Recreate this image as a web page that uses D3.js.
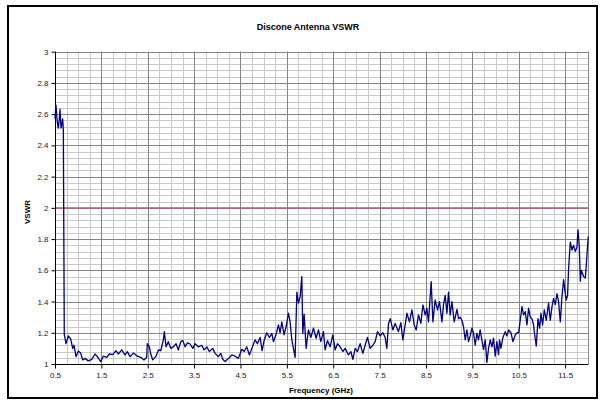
<!DOCTYPE html>
<html><head><meta charset="utf-8">
<script src="https://cdn.jsdelivr.net/npm/d3@7/dist/d3.min.js"></script>
<style>
html,body{margin:0;padding:0;background:#fff;}
svg{display:block;font-family:Arial,"Liberation Sans",sans-serif;}
</style></head>
<body>
<script>
const chartTitle = "Discone Antenna VSWR";
const xTitle = "Frequency (GHz)";
const yTitle = "VSWR";
const xTickLabels = [0.5,1.5,2.5,3.5,4.5,5.5,6.5,7.5,8.5,9.5,10.5,11.5];
const yTickLabels = [1,1.2,1.4,1.6,1.8,2,2.2,2.4,2.6,2.8,3];
const limitValue = 2;
const freqGHz = [0.50,0.52,0.545,0.57,0.59,0.608,0.63,0.645,0.665,0.68,0.70,0.737,0.787,0.839,0.882,0.91,0.953,1.003,1.054,1.098,1.147,1.218,1.292,1.363,1.413,1.486,1.542,1.615,1.672,1.745,1.816,1.866,1.939,2.01,2.06,2.118,2.19,2.276,2.349,2.42,2.478,2.49,2.535,2.565,2.608,2.679,2.729,2.78,2.837,2.858,2.895,2.944,2.996,3.052,3.11,3.16,3.212,3.255,3.305,3.354,3.413,3.471,3.52,3.592,3.665,3.715,3.773,3.829,3.902,3.952,4.023,4.075,4.118,4.168,4.217,4.26,4.312,4.383,4.455,4.528,4.578,4.636,4.692,4.744,4.815,4.865,4.923,4.966,5.009,5.067,5.124,5.175,5.21,5.268,5.318,5.354,5.391,5.441,5.484,5.534,5.57,5.607,5.641,5.678,5.715,5.749,5.786,5.822,5.844,5.872,5.915,5.965,6.017,6.073,6.131,6.181,6.233,6.289,6.325,6.375,6.433,6.491,6.541,6.591,6.649,6.707,6.757,6.828,6.88,6.923,6.973,7.022,7.08,7.138,7.188,7.238,7.296,7.354,7.404,7.454,7.512,7.57,7.62,7.656,7.692,7.73,7.786,7.835,7.907,7.958,8.001,8.051,8.088,8.144,8.196,8.245,8.289,8.338,8.39,8.433,8.483,8.519,8.554,8.612,8.649,8.698,8.748,8.791,8.843,8.878,8.914,8.951,8.986,9.022,9.059,9.108,9.167,9.201,9.238,9.274,9.309,9.346,9.382,9.417,9.453,9.49,9.524,9.561,9.597,9.632,9.668,9.704,9.74,9.777,9.813,9.849,9.885,9.922,9.956,9.993,10.029,10.064,10.086,10.116,10.159,10.209,10.245,10.282,10.333,10.375,10.425,10.461,10.497,10.533,10.57,10.604,10.641,10.677,10.712,10.749,10.785,10.82,10.835,10.878,10.915,10.95,10.979,11.014,11.051,11.094,11.143,11.18,11.217,11.251,11.288,11.324,11.359,11.396,11.432,11.468,11.504,11.525,11.553,11.575,11.612,11.649,11.683,11.72,11.756,11.778,11.806,11.828,11.849,11.899,11.936,11.957,11.985,12.0];
const vswr = [2.57,2.66,2.56,2.51,2.56,2.63,2.51,2.53,2.57,2.50,1.19,1.13,1.18,1.16,1.10,1.12,1.047,1.083,1.07,1.026,1.036,1.02,1.03,1.064,1.047,1.015,1.05,1.043,1.064,1.06,1.085,1.064,1.09,1.058,1.079,1.047,1.07,1.05,1.043,1.026,1.043,1.13,1.11,1.064,1.026,1.05,1.09,1.085,1.154,1.207,1.11,1.143,1.10,1.11,1.13,1.09,1.143,1.15,1.11,1.135,1.128,1.10,1.13,1.11,1.12,1.09,1.11,1.08,1.10,1.068,1.047,1.068,1.03,1.015,1.03,1.04,1.058,1.05,1.036,1.094,1.08,1.11,1.058,1.10,1.154,1.13,1.17,1.085,1.15,1.20,1.17,1.196,1.143,1.19,1.25,1.20,1.27,1.186,1.24,1.325,1.27,1.154,1.10,1.043,1.46,1.39,1.43,1.56,1.196,1.32,1.10,1.218,1.17,1.23,1.165,1.218,1.143,1.207,1.09,1.15,1.11,1.186,1.09,1.13,1.11,1.08,1.10,1.058,1.08,1.03,1.10,1.08,1.13,1.068,1.12,1.17,1.10,1.12,1.143,1.207,1.18,1.20,1.17,1.10,1.26,1.29,1.218,1.26,1.207,1.265,1.154,1.25,1.325,1.27,1.346,1.25,1.218,1.314,1.26,1.378,1.314,1.357,1.27,1.528,1.27,1.41,1.346,1.40,1.27,1.38,1.44,1.325,1.46,1.314,1.40,1.27,1.35,1.29,1.30,1.28,1.24,1.154,1.218,1.143,1.18,1.23,1.20,1.12,1.196,1.154,1.218,1.154,1.094,1.154,1.01,1.10,1.154,1.11,1.165,1.05,1.143,1.06,1.154,1.10,1.17,1.207,1.18,1.218,1.20,1.143,1.186,1.20,1.20,1.28,1.367,1.314,1.335,1.25,1.357,1.30,1.29,1.25,1.207,1.115,1.29,1.23,1.325,1.25,1.346,1.28,1.39,1.28,1.367,1.42,1.38,1.45,1.40,1.27,1.43,1.54,1.45,1.41,1.44,1.61,1.78,1.73,1.76,1.72,1.75,1.86,1.75,1.53,1.60,1.56,1.55,1.635,1.76,1.816];

const W = 602, H = 404;
const m = {left:55, right:14, top:52, bottom:40};
const svg = d3.select("body").append("svg").attr("width", W).attr("height", H);

// outer chart frame
svg.append("rect").attr("x", 8).attr("y", 6).attr("width", 589).attr("height", 392)
  .attr("fill", "#fff").attr("stroke", "#000").attr("stroke-width", 2);

const x = d3.scaleLinear().domain([0.5, 12]).range([55, 588.3]);
const y = d3.scaleLinear().domain([1, 3]).range([364, 51.7]);

// minor grid
const minorX = d3.range(0, 47).map(i => 0.5 + i * 0.25);
const minorY = d3.range(0, 51).map(i => 1 + i * 0.04);
svg.append("g").selectAll("line").data(minorX).join("line")
  .attr("x1", d => Math.round(x(d)) + 0.5).attr("x2", d => Math.round(x(d)) + 0.5)
  .attr("y1", y(3)).attr("y2", y(1)).attr("stroke", "#c8c8c8").attr("stroke-width", 1);
svg.append("g").selectAll("line").data(minorY).join("line")
  .attr("y1", d => Math.round(y(d)) + 0.5).attr("y2", d => Math.round(y(d)) + 0.5)
  .attr("x1", x(0.5)).attr("x2", x(12)).attr("stroke", "#c8c8c8").attr("stroke-width", 1);
// major grid
svg.append("g").selectAll("line").data(xTickLabels).join("line")
  .attr("x1", d => Math.round(x(d)) + 0.5).attr("x2", d => Math.round(x(d)) + 0.5)
  .attr("y1", y(3)).attr("y2", y(1)).attr("stroke", "#858585").attr("stroke-width", 1);
svg.append("g").selectAll("line").data(yTickLabels).join("line")
  .attr("y1", d => Math.round(y(d)) + 0.5).attr("y2", d => Math.round(y(d)) + 0.5)
  .attr("x1", x(0.5)).attr("x2", x(12)).attr("stroke", "#858585").attr("stroke-width", 1);
// right border of plot
svg.append("line").attr("x1", Math.round(x(12)) + 0.5).attr("x2", Math.round(x(12)) + 0.5)
  .attr("y1", y(3)).attr("y2", y(1)).attr("stroke", "#858585");

// limit line
svg.append("line").attr("x1", x(0.5)).attr("x2", x(12))
  .attr("y1", y(limitValue)).attr("y2", y(limitValue))
  .attr("stroke", "#c8507a").attr("stroke-width", 1.2);

// axes
const xAxis = d3.axisBottom(x).tickValues(xTickLabels).tickSize(4).tickPadding(4)
  .tickFormat(d => String(d));
const gx = svg.append("g").attr("transform", `translate(0,${Math.round(y(1)) + 0.5})`).call(xAxis);
gx.select(".domain").attr("stroke", "#000").attr("d", `M${x(0.5)},0H${x(12)}`);
gx.selectAll("line").attr("stroke", "#000");
gx.selectAll("text").attr("font-size", 8).attr("fill", "#222").attr("font-family", "Arial, 'Liberation Sans', sans-serif");

const yAxis = d3.axisLeft(y).tickValues(yTickLabels).tickSize(4).tickPadding(3)
  .tickFormat(d => String(+d.toFixed(1)));
const gy = svg.append("g").attr("transform", `translate(${Math.round(x(0.5)) + 0.5},0)`).call(yAxis);
gy.select(".domain").attr("stroke", "#000").attr("d", `M0,${y(3)}V${y(1)}`);
gy.selectAll("line").attr("stroke", "#000");
gy.selectAll("text").attr("font-size", 8).attr("fill", "#222").attr("font-family", "Arial, 'Liberation Sans', sans-serif");

// data line
const line = d3.line().x((d, i) => x(freqGHz[i])).y(d => y(d));
svg.append("path").datum(vswr).attr("d", line)
  .attr("fill", "none").attr("stroke", "#000080").attr("stroke-width", 1.3)
  .attr("stroke-linejoin", "round");

// titles
svg.append("text").attr("x", 308).attr("y", 30).attr("text-anchor", "middle")
  .attr("font-size", 9).attr("font-weight", "bold").attr("fill", "#000").text(chartTitle);
svg.append("text").attr("x", 321).attr("y", 393).attr("text-anchor", "middle")
  .attr("font-size", 8).attr("font-weight", "bold").attr("fill", "#000").text(xTitle);
svg.append("text").attr("transform", "translate(30,212) rotate(-90)").attr("text-anchor", "middle")
  .attr("font-size", 8).attr("font-weight", "bold").attr("fill", "#000").text(yTitle);
</script>
</body></html>
